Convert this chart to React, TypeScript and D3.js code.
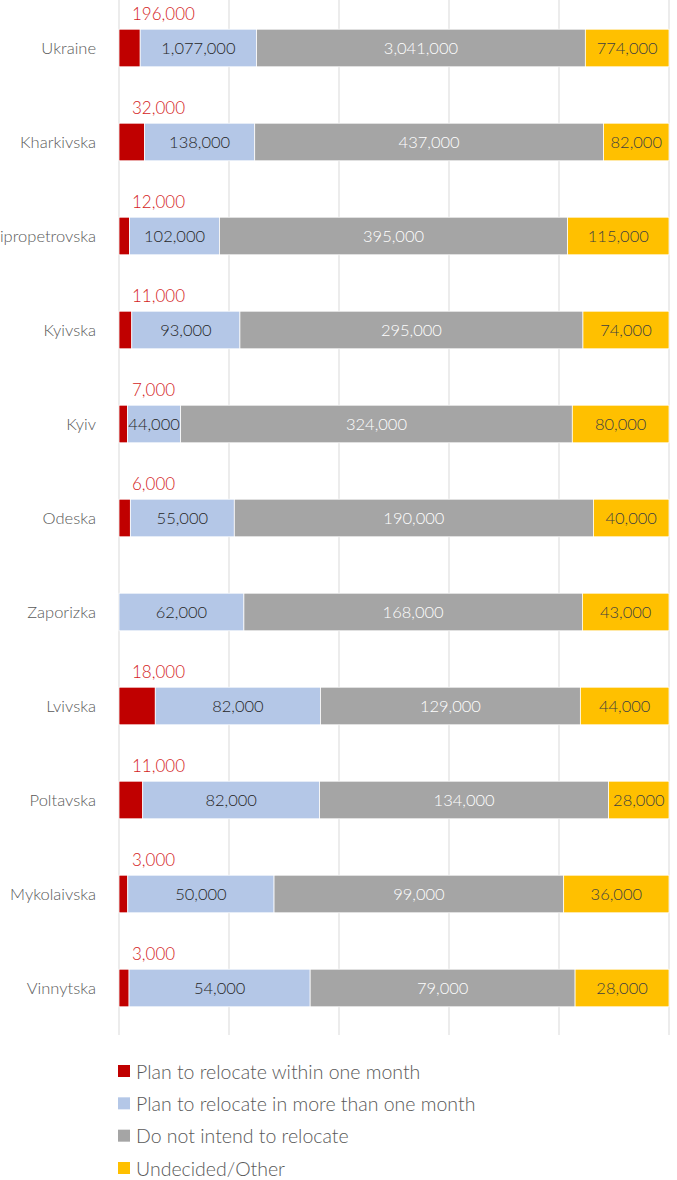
import React from "react";
import * as d3 from "d3";

const categories = ["Ukraine", "Kharkivska", "Dnipropetrovska", "Kyivska", "Kyiv", "Odeska", "Zaporizka", "Lvivska", "Poltavska", "Mykolaivska", "Vinnytska"];
const withinMonth = [196000, 32000, 12000, 11000, 7000, 6000, 0, 18000, 11000, 3000, 3000];
const moreThanMonth = [1077000, 138000, 102000, 93000, 44000, 55000, 62000, 82000, 82000, 50000, 54000];
const notIntend = [3041000, 437000, 395000, 295000, 324000, 190000, 168000, 129000, 134000, 99000, 79000];
const undecided = [774000, 82000, 115000, 74000, 80000, 40000, 43000, 44000, 28000, 36000, 28000];
const seriesNames = ["Plan to relocate within one month", "Plan to relocate in more than one month", "Do not intend to relocate", "Undecided/Other"];
const gridTicks = [0, 0.2, 0.4, 0.6, 0.8, 1.0];

const colors = ["#C00000", "#B4C7E7", "#A5A5A5", "#FFC000"];
const labelColors = ["#D41C1C", "#262626", "#FFFFFF", "#404040"];
const font = "Lato, 'Open Sans', sans-serif";

export default function App() {
  const W = 677, H = 1180;
  const x = d3.scaleLinear().domain([0, 1]).range([119, 669]);
  const y = d3.scaleBand<string>().domain(categories).range([1, 1035]).paddingInner(0.6).paddingOuter(0.3);
  const series = [withinMonth, moreThanMonth, notIntend, undecided];
  const fmt = d3.format(",");

  const rows = categories.map((c, i) => {
    const vals = series.map((s) => s[i]);
    const total = d3.sum(vals);
    let acc = 0;
    const segs = vals.map((v, k) => {
      const x0 = acc / total;
      acc += v;
      return { k, v, x0, x1: acc / total };
    });
    return { c, segs };
  });

  const legendY = d3.scaleLinear().domain([0, 3]).range([1071, 1168]);

  return (
    <svg width={W} height={H} style={{ position: "absolute", left: 0, top: 0, background: "#fff" }} fontFamily={font} fontWeight={300}>
      {gridTicks.map((t) => (
        <line key={t} x1={x(t)} x2={x(t)} y1={0} y2={1035} stroke="#D9D9D9" strokeWidth={1} />
      ))}
      {rows.map((r) => {
        const y0 = y(r.c)!;
        const bw = y.bandwidth();
        return (
          <g key={r.c}>
            <text x={96} y={y0 + bw / 2} textAnchor="end" dominantBaseline="central" fontSize={16.5} fill="#595959">
              {r.c}
            </text>
            {r.segs.map((s) =>
              s.v > 0 ? (
                <rect key={s.k} x={x(s.x0)} y={y0} width={x(s.x1) - x(s.x0)} height={bw} fill={colors[s.k]} stroke="#fff" strokeWidth={0.75} />
              ) : null
            )}
            {r.segs.map((s) =>
              s.v > 0 && s.k > 0 ? (
                <text key={"t" + s.k} x={(x(s.x0) + x(s.x1)) / 2} y={y0 + bw / 2} textAnchor="middle" dominantBaseline="central" fontSize={16.5} fill={labelColors[s.k]}>
                  {fmt(s.v)}
                </text>
              ) : null
            )}
            {r.segs[0].v > 0 ? (
              <text x={132} y={y0 - 16} textAnchor="start" dominantBaseline="central" fontSize={17} fill={labelColors[0]}>
                {fmt(r.segs[0].v)}
              </text>
            ) : null}
          </g>
        );
      })}
      {seriesNames.map((n, i) => (
        <g key={n}>
          <rect x={118} y={legendY(i) - 6} width={12} height={12} fill={colors[i]} />
          <text x={136} y={legendY(i)} dominantBaseline="central" fontSize={19.5} fill="#595959">
            {n}
          </text>
        </g>
      ))}
    </svg>
  );
}
